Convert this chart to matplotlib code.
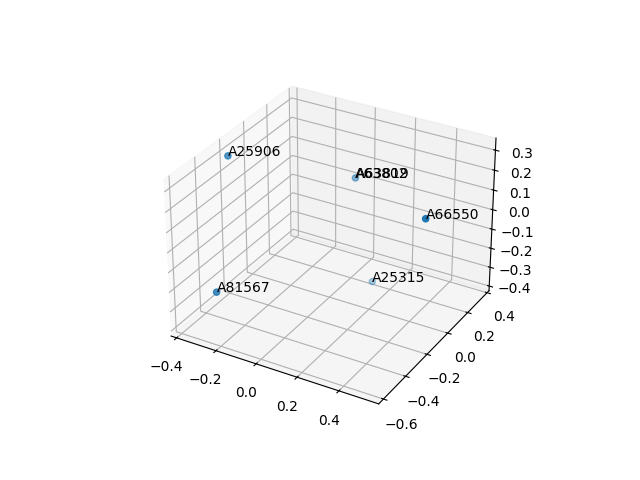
import numpy as np
import matplotlib
matplotlib.use('Agg')
import matplotlib.pyplot as plt

# sample ids and their 3d coordinates
labels = ['A81567', 'A25906', 'A63802', 'A63819', 'A66550', 'A25315']
xs = [-0.230, -0.364, -0.062, -0.059, 0.522, 0.138]
ys = [-0.574, -0.239, 0.353, 0.350, -0.115, 0.147]
zs = [-0.170, 0.310, 0.012, 0.016, 0.193, -0.375]

fig = plt.figure(figsize=(6.4, 4.8), dpi=100)
ax = fig.add_subplot(projection='3d')

ax.scatter(xs, ys, zs)

# put the id next to each point
for x, y, z, lab in zip(xs, ys, zs, labels):
    ax.text(x, y, z, lab)

fig.savefig('out.png')
